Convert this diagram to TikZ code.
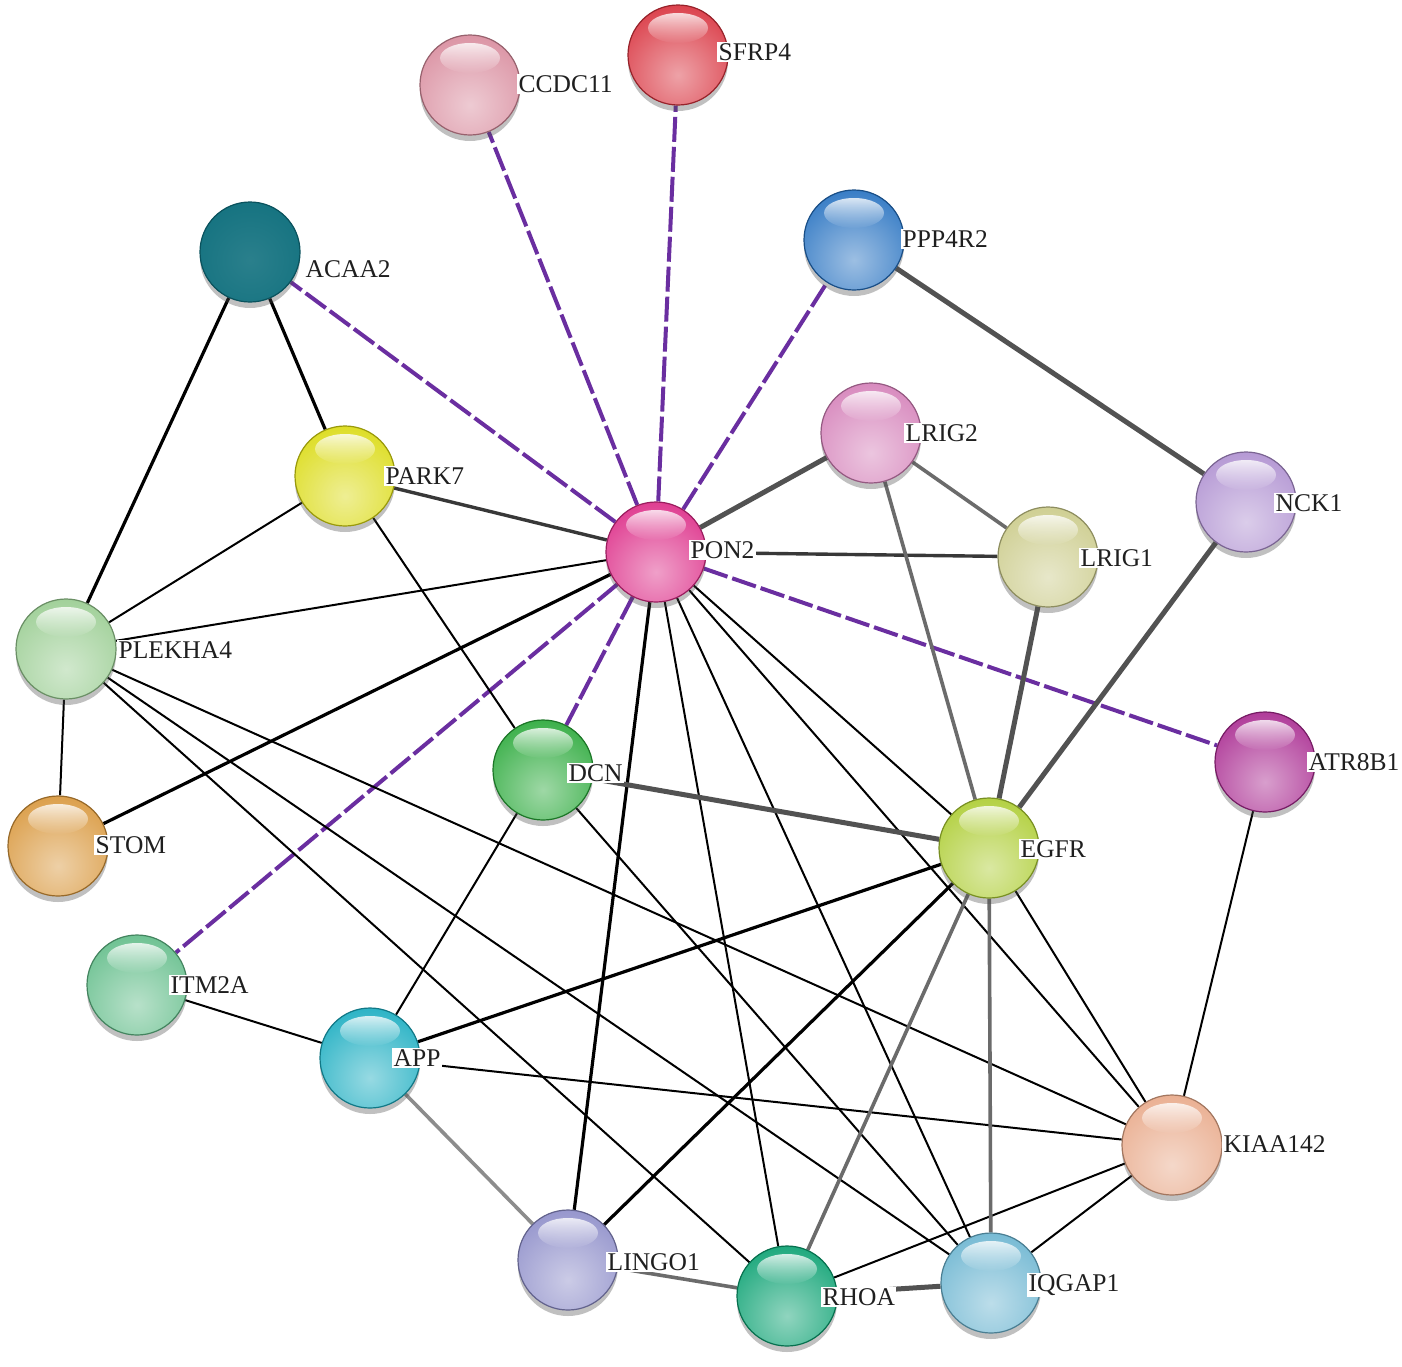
\documentclass[tikz,border=0pt]{standalone}
\usepackage{fontspec}
\setmainfont{Liberation Serif}
\usetikzlibrary{shadows,fadings}
\pgfdeclarelayer{background}
\pgfsetlayers{background,main}
\tikzfading[name=glossfade, top color=transparent!0, bottom color=transparent!100]
\definecolor{cCCDC}{HTML}{D88A9C}
\definecolor{cSFRP}{HTML}{D8303C}
\definecolor{cACAA}{HTML}{0D6E7C}
\definecolor{cPPP}{HTML}{2470C0}
\definecolor{cLRIGb}{HTML}{D47FB8}
\definecolor{cPARK}{HTML}{DADA10}
\definecolor{cNCK}{HTML}{AE8FD0}
\definecolor{cPON}{HTML}{DC2A86}
\definecolor{cLRIGa}{HTML}{CACA88}
\definecolor{cPLEK}{HTML}{98CC90}
\definecolor{cATR}{HTML}{A8288F}
\definecolor{cDCN}{HTML}{28A838}
\definecolor{cEGFR}{HTML}{ACCC30}
\definecolor{cSTOM}{HTML}{D8963A}
\definecolor{cITM}{HTML}{60BC88}
\definecolor{cAPP}{HTML}{18ACC0}
\definecolor{cKIAA}{HTML}{E8A888}
\definecolor{cLINGO}{HTML}{8C8CC8}
\definecolor{cRHOA}{HTML}{08A070}
\definecolor{cIQG}{HTML}{6AB4D0}
\definecolor{dashpurple}{HTML}{6A2EA0}
\begin{document}
\begin{tikzpicture}[x=1pt,y=-1pt,
  sph/.style={circle, minimum size=100pt, inner sep=0pt, fill=#1, draw=#1!70!black, line width=1.2pt,
    drop shadow={shadow xshift=0pt, shadow yshift=-6pt, opacity=0.35, fill=black!70},
    path picture={
      \shade[inner color=#1!45!white, outer color=#1] ([yshift=-20pt]path picture bounding box.center) circle (84pt);
      \fill[white, path fading=glossfade, fill opacity=0.8] ([yshift=-23pt]path picture bounding box.north) ellipse (30pt and 15pt);
    }},
  sphflat/.style={circle, minimum size=100pt, inner sep=0pt, fill=#1, draw=#1!75!black, line width=1.2pt,
    drop shadow={shadow xshift=0pt, shadow yshift=-6pt, opacity=0.35, fill=black!70},
    path picture={
      \shade[inner color=#1!88!white, outer color=#1] ([yshift=-8pt]path picture bounding box.center) circle (84pt);
    }},
  lbl/.style={anchor=base west, fill=white, inner sep=1.5pt, font=\fontsize{25.5}{30}\selectfont, text=black!88},
  thinblk/.style={black, line width=2pt},
  thkblk/.style={black, line width=3.2pt},
  dkgray/.style={black!78, line width=3.4pt},
  gthick/.style={black!68, line width=5pt},
  gmed/.style={black!58, line width=3.6pt},
  glight/.style={black!45, line width=3.6pt},
  dsh/.style={dashpurple, line width=4pt, dash pattern=on 25pt off 5pt}
]
\useasboundingbox (0,0) rectangle (1402,1366);
\begin{pgfonlayer}{background}
\fill[white] (0,0) rectangle (1402,1366);
\end{pgfonlayer}

% spheres
\node[sph=cCCDC] (CCDC11) at (470,85) {};
\node[sph=cSFRP] (SFRP4) at (678,55) {};
\node[sphflat=cACAA] (ACAA2) at (250,252) {};
\node[sph=cPPP] (PPP4R2) at (854,240) {};
\node[sph=cLRIGb] (LRIG2) at (871,433) {};
\node[sph=cPARK] (PARK7) at (345,476) {};
\node[sph=cNCK] (NCK1) at (1246,502) {};
\node[sph=cPON] (PON2) at (656,552) {};
\node[sph=cLRIGa] (LRIG1) at (1048,557) {};
\node[sph=cPLEK] (PLEKHA4) at (66,649) {};
\node[sph=cATR] (ATR8B1) at (1265,762) {};
\node[sph=cDCN] (DCN) at (543,770) {};
\node[sph=cEGFR] (EGFR) at (989,848) {};
\node[sph=cSTOM] (STOM) at (58,846) {};
\node[sph=cITM] (ITM2A) at (137,985) {};
\node[sph=cAPP] (APP) at (370,1058) {};
\node[sph=cKIAA] (KIAA142) at (1172,1145) {};
\node[sph=cLINGO] (LINGO1) at (568,1260) {};
\node[sph=cRHOA] (RHOA) at (787,1296) {};
\node[sph=cIQG] (IQGAP1) at (991,1283) {};

% connectors
\begin{pgfonlayer}{background}
\foreach \a/\b in {PON2/CCDC11, PON2/SFRP4, PON2/ACAA2, PON2/PPP4R2, PON2/ATR8B1, PON2/DCN, PON2/ITM2A}
  \draw[dsh] (\a) -- (\b);
\foreach \a/\b in {PON2/STOM, PON2/LINGO1, EGFR/APP, EGFR/LINGO1, ACAA2/PLEKHA4, ACAA2/PARK7}
  \draw[thkblk] (\a) -- (\b);
\foreach \a/\b in {PARK7/PLEKHA4, PARK7/DCN, PLEKHA4/PON2, PLEKHA4/STOM, PLEKHA4/KIAA142, PLEKHA4/IQGAP1, PLEKHA4/RHOA, PON2/RHOA, PON2/IQGAP1, PON2/KIAA142, PON2/EGFR, ITM2A/APP, APP/DCN, APP/KIAA142, DCN/IQGAP1, EGFR/KIAA142, ATR8B1/KIAA142, KIAA142/RHOA, KIAA142/IQGAP1}
  \draw[thinblk] (\a) -- (\b);
\foreach \a/\b in {PARK7/PON2, PON2/LRIG1}
  \draw[dkgray] (\a) -- (\b);
\foreach \a/\b in {PON2/LRIG2, PPP4R2/NCK1, NCK1/EGFR, LRIG1/EGFR, DCN/EGFR, RHOA/IQGAP1}
  \draw[gthick] (\a) -- (\b);
\foreach \a/\b in {LRIG2/LRIG1, LRIG2/EGFR, EGFR/RHOA, EGFR/IQGAP1, LINGO1/RHOA}
  \draw[gmed] (\a) -- (\b);
\draw[glight] (APP) -- (LINGO1);
\end{pgfonlayer}

% labels
\node[lbl] (CCDC11-t) at (517,92.5) {CCDC11};
\node[lbl] (SFRP4-t) at (717,60.5) {SFRP4};
\node[lbl] (ACAA2-t) at (304,277.5) {ACAA2};
\node[lbl] (PPP4R2-t) at (901,247.5) {PPP4R2};
\node[lbl] (LRIG2-t) at (904,441.5) {LRIG2};
\node[lbl] (PARK7-t) at (384,484.5) {PARK7};
\node[lbl] (NCK1-t) at (1274,511.5) {NCK1};
\node[lbl] (PON2-t) at (689,558.5) {PON2};
\node[lbl] (LRIG1-t) at (1079,566.5) {LRIG1};
\node[lbl] (PLEKHA4-t) at (117,658.5) {PLEKHA4};
\node[lbl] (ATR8B1-t) at (1307,770.5) {ATR8B1};
\node[lbl] (DCN-t) at (567,781.5) {DCN};
\node[lbl] (EGFR-t) at (1019,857.5) {EGFR};
\node[lbl] (STOM-t) at (94,853.5) {STOM};
\node[lbl] (ITM2A-t) at (169,993.5) {ITM2A};
\node[lbl] (APP-t) at (392,1066.5) {APP};
\node[lbl] (KIAA142-t) at (1222,1152.5) {KIAA142};
\node[lbl] (LINGO1-t) at (606,1270.5) {LINGO1};
\node[lbl] (RHOA-t) at (821,1305.5) {RHOA};
\node[lbl] (IQGAP1-t) at (1027,1291.5) {IQGAP1};
\end{tikzpicture}
\end{document}
